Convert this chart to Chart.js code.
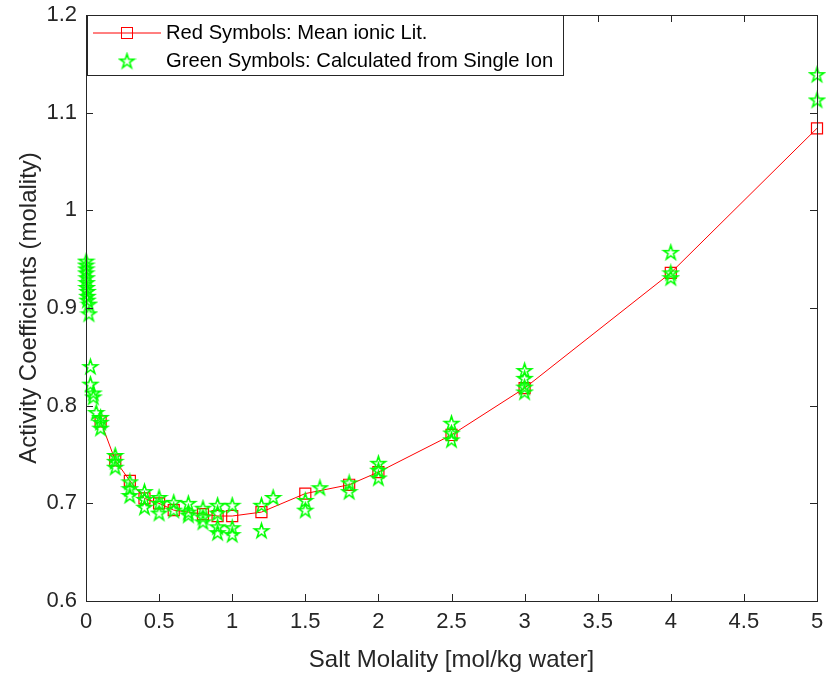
<!DOCTYPE html>
<html lang="en">
<head>
    <meta charset="UTF-8">
    <title>Activity Coefficients vs Salt Molality</title>
    <script src="https://cdn.jsdelivr.net/npm/chart.js"></script>
    <style>
        html, body { margin: 0; padding: 0; background: #fff; }
        #wrap { width: 826px; height: 677px; }
    </style>
</head>
<body>
    <div id="wrap"><canvas id="gammaChart" width="826" height="677"></canvas></div>
    <script>
        // Mean ionic activity coefficients from literature
        const litMolality = [0.1, 0.2, 0.3, 0.4, 0.5, 0.6, 0.8, 0.9, 1.0, 1.2, 1.5, 1.8, 2.0, 2.5, 3.0, 4.0, 5.0];
        const litGamma = [0.784, 0.744, 0.723, 0.705, 0.700, 0.693, 0.689, 0.687, 0.687, 0.691, 0.710, 0.719, 0.732, 0.770, 0.818, 0.936, 1.084];

        // Values calculated from single ion activity coefficients
        const ionMolality = [
            0.001, 0.001, 0.002, 0.002, 0.005, 0.005, 0.005, 0.01, 0.01, 0.01, 0.02, 0.02,
            0.03, 0.03, 0.05, 0.05, 0.07, 0.1, 0.1, 0.1,
            0.2, 0.2, 0.2, 0.3, 0.3, 0.3, 0.4, 0.4, 0.4,
            0.5, 0.5, 0.5, 0.6, 0.6, 0.7, 0.7, 0.7,
            0.8, 0.8, 0.8, 0.9, 0.9, 0.9, 0.9, 1.0, 1.0, 1.0,
            1.2, 1.2, 1.28, 1.5, 1.5, 1.6, 1.8, 1.8,
            2.0, 2.0, 2.0, 2.5, 2.5, 2.5, 3.0, 3.0, 3.0, 3.0,
            4.0, 4.0, 4.0, 5.0, 5.0
        ];
        const ionGamma = [
            0.948, 0.944, 0.940, 0.936, 0.931, 0.926, 0.921, 0.917, 0.912, 0.908, 0.904, 0.894,
            0.840, 0.822, 0.813, 0.809, 0.793, 0.788, 0.783, 0.777,
            0.749, 0.743, 0.737, 0.722, 0.715, 0.708, 0.712, 0.704, 0.696,
            0.706, 0.700, 0.690, 0.701, 0.693, 0.700, 0.691, 0.688,
            0.695, 0.686, 0.681, 0.698, 0.690, 0.676, 0.670, 0.698, 0.675, 0.668,
            0.698, 0.672, 0.706, 0.703, 0.693, 0.716, 0.721, 0.712,
            0.741, 0.734, 0.726, 0.782, 0.772, 0.765, 0.836, 0.828, 0.819, 0.814,
            0.957, 0.936, 0.931, 1.139, 1.113
        ];

        const xTicks = [0, 0.5, 1, 1.5, 2, 2.5, 3, 3.5, 4, 4.5, 5];
        const yTicks = [0.6, 0.7, 0.8, 0.9, 1.0, 1.1, 1.2];

        const seriesNames = ['Red Symbols: Mean ionic Lit.', 'Green Symbols: Calculated from Single Ion'];

        const axisColor = '#262626';
        const fontFamily = '"Liberation Sans", Arial, Helvetica, sans-serif';

        // hollow pentagram marker
        function makeStar(size, color) {
            const c = document.createElement('canvas');
            c.width = size; c.height = size;
            const g = c.getContext('2d');
            const cx = size / 2, cy = size / 2 + 0.5;
            const R = size / 2 - 2, r = R * 0.382;
            g.beginPath();
            for (let i = 0; i < 10; i++) {
                const rad = i % 2 === 0 ? R : r;
                const a = -Math.PI / 2 + i * Math.PI / 5;
                const px = cx + rad * Math.cos(a), py = cy + rad * Math.sin(a);
                if (i === 0) g.moveTo(px, py); else g.lineTo(px, py);
            }
            g.closePath();
            g.strokeStyle = color;
            g.lineWidth = 1.6;
            g.stroke();
            return c;
        }
        const starImg = makeStar(19, '#00ff00');

        // box around the axes, inward ticks and the legend
        const frame = {
            id: 'frame',
            afterDatasetsDraw(chart) {
                const { ctx, chartArea: a, scales } = chart;
                const tl = 7;
                ctx.save();
                ctx.strokeStyle = axisColor;
                ctx.lineWidth = 1;
                ctx.beginPath();
                xTicks.forEach(v => {
                    const x = Math.round(scales.x.getPixelForValue(v)) + 0.5;
                    ctx.moveTo(x, a.bottom); ctx.lineTo(x, a.bottom - tl);
                    ctx.moveTo(x, a.top); ctx.lineTo(x, a.top + tl);
                });
                yTicks.forEach(v => {
                    const y = Math.round(scales.y.getPixelForValue(v)) + 0.5;
                    ctx.moveTo(a.left, y); ctx.lineTo(a.left + tl, y);
                    ctx.moveTo(a.right, y); ctx.lineTo(a.right - tl, y);
                });
                ctx.stroke();
                ctx.strokeRect(Math.round(a.left) + 0.5, Math.round(a.top) + 0.5,
                    Math.round(a.right - a.left), Math.round(a.bottom - a.top));

                // legend
                const lx = Math.round(a.left) + 1.5, ly = Math.round(a.top) + 0.5, lw = 476, lh = 60;
                ctx.fillStyle = '#fff';
                ctx.fillRect(lx, ly, lw, lh);
                ctx.strokeRect(lx, ly, lw, lh);
                const row1 = ly + 17.5, row2 = ly + 45.5;
                ctx.strokeStyle = '#ff0000';
                ctx.beginPath();
                ctx.moveTo(93, row1); ctx.lineTo(161, row1);
                ctx.stroke();
                ctx.strokeRect(121.5, row1 - 5.5, 11, 11);
                ctx.drawImage(starImg, 127 - 9.5, row2 - 9.5);
                ctx.fillStyle = '#000';
                ctx.font = '20.2px ' + fontFamily;
                ctx.textBaseline = 'middle';
                ctx.textAlign = 'left';
                ctx.fillText(seriesNames[0], 166, row1);
                ctx.fillText(seriesNames[1], 166, row2);
                ctx.restore();
            }
        };

        const ctx = document.getElementById('gammaChart').getContext('2d');
        new Chart(ctx, {
            type: 'scatter',
            data: {
                datasets: [
                    {
                        label: seriesNames[1],
                        data: ionMolality.map((m, i) => ({ x: m, y: ionGamma[i] })),
                        pointStyle: starImg,
                        showLine: false,
                        clip: false,
                        order: 0
                    },
                    {
                        label: seriesNames[0],
                        data: litMolality.map((m, i) => ({ x: m, y: litGamma[i] })),
                        showLine: true,
                        borderColor: '#ff0000',
                        borderWidth: 1,
                        backgroundColor: 'rgba(0,0,0,0)',
                        pointStyle: 'rect',
                        pointRadius: 7.8,
                        pointBorderColor: '#ff0000',
                        pointBorderWidth: 1.2,
                        pointBackgroundColor: 'rgba(0,0,0,0)',
                        tension: 0,
                        clip: false,
                        order: 1
                    }
                ]
            },
            options: {
                responsive: false,
                animation: false,
                events: [],
                layout: { padding: { top: 15, right: 7, left: 0, bottom: 0 } },
                plugins: { legend: { display: false }, tooltip: { enabled: false } },
                scales: {
                    x: {
                        type: 'linear',
                        min: 0, max: 5,
                        afterBuildTicks: s => { s.ticks = xTicks.map(v => ({ value: v })); },
                        afterFit: s => { s.height = 76; s.paddingLeft = 0; s.paddingRight = 0; },
                        grid: { display: false, drawTicks: false },
                        border: { display: false },
                        ticks: {
                            padding: 8,
                            color: axisColor,
                            font: { family: fontFamily, size: 22 },
                            maxRotation: 0,
                            callback: v => String(v)
                        },
                        title: {
                            display: true,
                            text: 'Salt Molality [mol/kg water]',
                            color: axisColor,
                            font: { family: fontFamily, size: 24 },
                            padding: { top: 0, bottom: 2 }
                        }
                    },
                    y: {
                        type: 'linear',
                        min: 0.6, max: 1.2,
                        afterBuildTicks: s => { s.ticks = yTicks.map(v => ({ value: v })); },
                        afterFit: s => { s.width = 86; s.paddingTop = 0; s.paddingBottom = 0; },
                        grid: { display: false, drawTicks: false },
                        border: { display: false },
                        ticks: {
                            padding: 9,
                            color: axisColor,
                            font: { family: fontFamily, size: 22 },
                            callback: v => String(Math.round(v * 10) / 10)
                        },
                        title: {
                            display: true,
                            text: 'Activity Coefficients (molality)',
                            color: axisColor,
                            font: { family: fontFamily, size: 24 },
                            padding: { top: 15, bottom: 0 }
                        }
                    }
                }
            },
            plugins: [frame]
        });
    </script>
</body>
</html>
